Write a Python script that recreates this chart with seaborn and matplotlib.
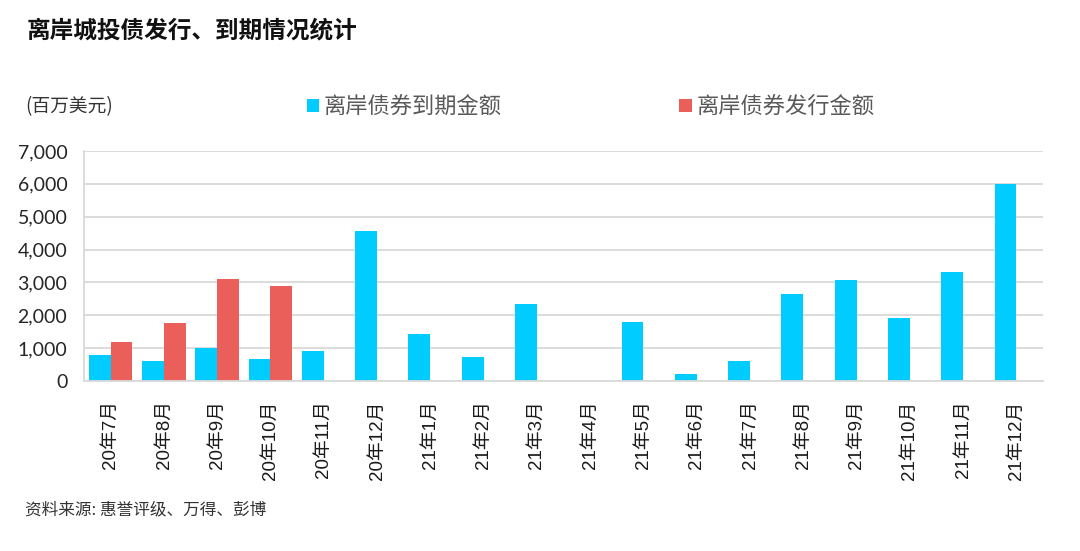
import matplotlib
matplotlib.use("Agg")
import matplotlib.pyplot as plt
import seaborn as sns
import pandas as pd
from matplotlib.ticker import FuncFormatter, MultipleLocator

months = ["20年7月", "20年8月", "20年9月", "20年10月", "20年11月", "20年12月",
          "21年1月", "21年2月", "21年3月", "21年4月", "21年5月", "21年6月",
          "21年7月", "21年8月", "21年9月", "21年10月", "21年11月", "21年12月"]
maturity = [790, 620, 1010, 670, 900, 4560,
            1420, 730, 2340, 0, 1790, 210,
            620, 2640, 3080, 1920, 3320, 6000]
issuance = [1190, 1760, 3110, 2890, 0, 0,
            0, 0, 0, 0, 0, 0,
            0, 0, 0, 0, 0, 0]
series_names = ["离岸债券到期金额", "离岸债券发行金额"]
colors = ["#00CCFF", "#EB5F5A"]

df = pd.DataFrame({
    "month": months * 2,
    "value": maturity + issuance,
    "series": [series_names[0]] * len(months) + [series_names[1]] * len(months),
})

sns.set_theme(style="white")
plt.rcParams["font.family"] = ["Lato", "Noto Sans CJK SC", "DejaVu Sans"]

fig = plt.figure(figsize=(10.8, 5.51), dpi=100)
ax = fig.add_axes([84 / 1080, 1 - 381 / 551, (1043 - 84) / 1080, (381 - 151) / 551])

sns.barplot(data=df, x="month", y="value", hue="series", order=months,
            hue_order=series_names, palette=colors, width=0.82, saturation=1,
            linewidth=0, ax=ax)

ax.set_ylim(0, 7000)
ax.set_xlim(-0.5, len(months) - 0.5)
ax.yaxis.set_major_locator(MultipleLocator(1000))
ax.yaxis.set_major_formatter(FuncFormatter(lambda v, p: f"{int(v):,}"))
ax.grid(axis="y", color="#D9D9D9", linewidth=1.3)
ax.set_axisbelow(True)
for s in ["top", "right"]:
    ax.spines[s].set_visible(False)
ax.spines["left"].set_color("#D9D9D9")
ax.spines["bottom"].set_color("#D9D9D9")
ax.spines["left"].set_linewidth(1.3)
ax.spines["bottom"].set_linewidth(1.3)
ax.tick_params(axis="both", length=0)
ax.tick_params(axis="y", labelsize=14, labelcolor="#262626", pad=12)
ax.tick_params(axis="x", labelsize=13.5, labelcolor="#1a1a1a", pad=14, rotation=90)
for lbl in ax.get_xticklabels():
    lbl.set_verticalalignment("top")
    lbl.set_family(["Liberation Sans", "Noto Sans CJK SC", "DejaVu Sans"])
ax.set_xlabel("")
ax.set_ylabel("")

sns.move_legend(ax, loc="center left", bbox_to_anchor=(307 / 1080, 1 - 107 / 551),
                bbox_transform=fig.transFigure, ncol=2, frameon=False, title=None,
                fontsize=16, handlelength=0.55, handleheight=0.55, handletextpad=0.2,
                columnspacing=8.0, borderpad=0, borderaxespad=0)
for t in ax.get_legend().get_texts():
    t.set_color("#595959")

fig.text(27 / 1080, 1 - 30 / 551, "离岸城投债发行、到期情况统计", fontsize=17,
         fontweight="bold", color="#111111", va="center", ha="left",
         family=["Noto Sans CJK SC", "DejaVu Sans"])
fig.text(25 / 1080, 1 - 107 / 551, "(百万美元)", fontsize=13.5, color="#333333",
         va="center", ha="left", family=["Noto Sans CJK SC", "DejaVu Sans"])
fig.text(25 / 1080, 1 - 510 / 551, "资料来源: 惠誉评级、万得、彭博", fontsize=12,
         color="#333333", va="center", ha="left",
         family=["Noto Sans CJK SC", "DejaVu Sans"])

fig.savefig("out.png", dpi=100)
